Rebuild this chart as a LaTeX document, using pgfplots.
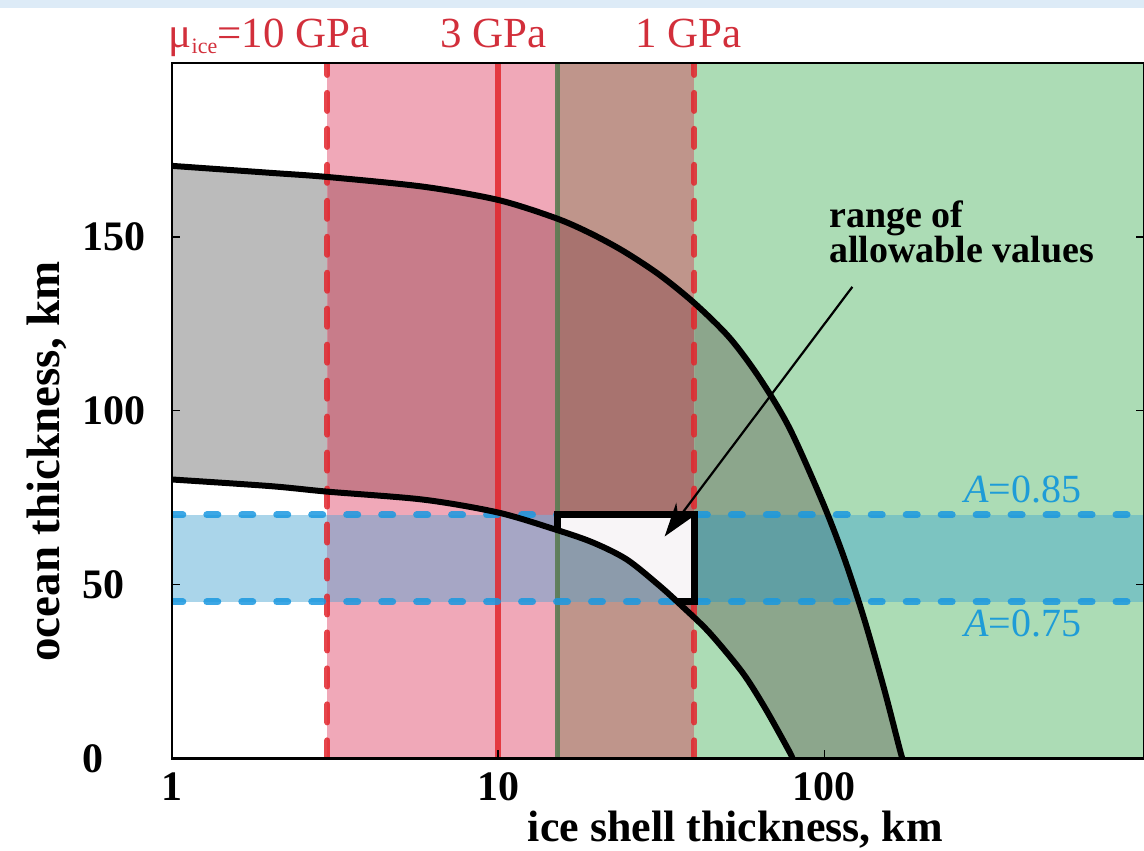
\documentclass[border=0pt]{standalone}
\usepackage{fontspec}
\setmainfont{Liberation Serif}
\usepackage{pgfplots}
\pgfplotsset{compat=1.18}
\usetikzlibrary{arrows.meta}

\definecolor{pinkbg}{HTML}{F0A8B8}
\definecolor{brownbg}{HTML}{BF958B}
\definecolor{greenbg}{HTML}{ACDCB5}
\definecolor{grayw}{HTML}{BBBBBB}
\definecolor{grayp}{HTML}{C87C8A}
\definecolor{grayb}{HTML}{A8736F}
\definecolor{grayg}{HTML}{8CA68C}
\definecolor{bluew}{HTML}{AAD5EA}
\definecolor{bluep}{HTML}{A6A6C5}
\definecolor{blueb}{HTML}{8C9BAB}
\definecolor{blueg}{HTML}{7CC4C1}
\definecolor{bluepg}{HTML}{9699BA}
\definecolor{bluegg}{HTML}{619FA3}
\definecolor{boxwhite}{HTML}{F8F5F7}
\definecolor{redline}{HTML}{E2262D}
\definecolor{greenline}{HTML}{5B7B52}
\definecolor{dashblue}{HTML}{1A98E0}
\definecolor{labblue}{HTML}{1E9CD7}
\definecolor{labred}{HTML}{D22F3B}
\definecolor{topstrip}{HTML}{DDEBF7}

\begin{document}
\begin{tikzpicture}
\begin{axis}[
  scale only axis, width=486.5pt, height=348pt,
  xmode=log, xmin=1, xmax=955, ymin=0, ymax=200,
  xtick={1,10,100}, xticklabels={1,10,100},
  ytick={0,50,100,150}, yticklabels={0,50,100,150},
  xminorticks=false, yminorticks=false,
  tick align=inside, xtick pos=bottom, ytick pos=both,
  major tick length=4pt,
  every tick/.style={black, line width=0.8pt},
  axis line style={line width=1.2pt},
  tick label style={font=\fontsize{21}{25}\selectfont\bfseries},
  xticklabel style={anchor=center, yshift=-14pt, inner sep=0pt},
  yticklabel style={anchor=west, xshift=-45pt, inner sep=0pt},
  axis on top,
  clip mode=individual,
]
% background strips
\addplot[fill=pinkbg, draw=none] coordinates {(3,0) (15.2,0) (15.2,200) (3,200)} -- cycle;
\addplot[fill=brownbg, draw=none] coordinates {(15.2,0) (40,0) (40,200) (15.2,200)} -- cycle;
\addplot[fill=greenbg, draw=none] coordinates {(40,0) (955,0) (955,200) (40,200)} -- cycle;
% gray band pieces
\addplot[fill=grayw, draw=none] coordinates {(1,170.4) (2,168.4) (3,167.2) (3,76.7) (2,78.3) (1,80.2)} -- cycle;
\addplot[fill=grayp, draw=none] coordinates {(3,167.2) (5.91,164.4) (10,160.6) (15.2,155.3) (15.2,65.3) (10,70.7) (5.91,74.4) (3,76.7)} -- cycle;
\addplot[fill=grayb, draw=none] coordinates {(15.2,155.3) (19.1,151.1) (24.2,145.9) (31.2,139.1) (40,130.9) (40,40.5) (36.7,43.7) (31.2,49.7) (24.8,57.2) (19.5,62.1) (15.2,65.3)} -- cycle;
\addplot[fill=grayg, draw=none] coordinates {(40,130.9) (51.2,121.0) (63.2,109.5) (78.1,95.1) (98.6,73.9) (115.2,57.5) (132.7,39.9) (152.7,19.8) (169.7,3.2) (173.4,0) (79.8,0) (78.1,2.0) (65.9,14.4) (56.1,24.7) (44.4,36.2) (40,40.5)} -- cycle;
% blue band pieces
\addplot[fill=bluew, draw=none] coordinates {(1,45) (3,45) (3,70) (1,70)} -- cycle;
\addplot[fill=bluep, draw=none] coordinates {(3,45) (15.2,45) (15.2,70) (3,70)} -- cycle;
\addplot[fill=blueb, draw=none] coordinates {(15.2,45) (40,45) (40,70) (15.2,70)} -- cycle;
\addplot[fill=blueg, draw=none] coordinates {(40,45) (955,45) (955,70) (40,70)} -- cycle;
\addplot[fill=bluepg, draw=none] coordinates {(10.6,70) (15.2,70) (15.2,65.3) (12.5,68.1)} -- cycle;
\addplot[fill=bluegg, draw=none] coordinates {(40,45) (40,70) (102,70) (115.2,57.5) (127.3,45)} -- cycle;
% allowable range box
\addplot[fill=boxwhite, draw=none] coordinates {(15.2,70) (40,70) (40,45) (35.4,45) (31.2,49.7) (24.8,57.2) (19.5,62.1) (15.2,65.3)} -- cycle;
% vertical lines
\addplot[draw=redline, draw opacity=0.85, line width=3pt, dash pattern=on 9pt off 9pt, line cap=round] coordinates {(3,0) (3,200)};
\addplot[draw=redline, draw opacity=0.85, line width=3pt, dash pattern=on 9pt off 9pt, line cap=round] coordinates {(40,0) (40,200)};
\addplot[draw=redline, draw opacity=0.85, line width=3pt] coordinates {(10,0) (10,200)};
\addplot[draw=greenline, draw opacity=0.9, line width=2.5pt] coordinates {(15.2,0) (15.2,200)};
% blue dashed lines
\addplot[draw=dashblue, draw opacity=0.85, line width=3.5pt, dash pattern=on 5.5pt off 12pt, line cap=round] coordinates {(1,70) (955,70)};
\addplot[draw=dashblue, draw opacity=0.85, line width=3.5pt, dash pattern=on 5.5pt off 12pt, line cap=round] coordinates {(1,45) (955,45)};
% curves
\addplot[black, line width=3pt, smooth] coordinates {(1,170.4) (2,168.4) (3,167.2) (5.91,164.4) (10,160.6) (15.0,155.4) (19.1,151.1) (24.2,145.9) (31.2,139.1) (40,130.9) (51.2,121.0) (63.2,109.5) (78.1,95.1) (98.6,73.9) (115.2,57.5) (132.7,39.9) (152.7,19.8) (169.7,3.2) (173.4,0)};
\addplot[black, line width=3pt, smooth] coordinates {(1,80.2) (2,78.3) (3,76.7) (5.91,74.4) (10,70.7) (15.0,65.8) (19.5,62.1) (24.8,57.2) (31.2,49.7) (36.7,43.7) (44.4,36.2) (56.1,24.7) (65.9,14.4) (78.1,2.0) (79.8,0)};
\addplot[black, line width=3.5pt, line join=miter] coordinates {(15.2,65.3) (15.2,70) (40,70) (40,45) (35.4,45)};
% arrow and texts
\draw[-{Stealth[length=17pt,width=11pt]}, line width=1.1pt] (axis cs:121.9,135.6) -- (axis cs:32.4,63.8);
\node[anchor=base west, font=\fontsize{19}{22}\selectfont\bfseries] at (axis cs:98.6,152.6) {range of};
\node[anchor=base west, font=\fontsize{19}{22}\selectfont\bfseries] at (axis cs:98.6,142.5) {allowable values};
\node[anchor=base west, text=labblue, font=\fontsize{20}{24}\selectfont] at (axis cs:255.5,73.6) {\textit{A}=0.85};
\node[anchor=base west, text=labblue, font=\fontsize{20}{24}\selectfont] at (axis cs:255.5,35.1) {\textit{A}=0.75};
\node[anchor=base east, inner sep=0pt, text=labred, font=\fontsize{21.5}{25}\selectfont] at (axis cs:4.04,204.3) {μ\raisebox{-0.3ex}{\fontsize{11}{12}\selectfont ice}=10 GPa};
\node[anchor=base, text=labred, font=\fontsize{21.5}{25}\selectfont] at (axis cs:9.69,204.3) {3 GPa};
\node[anchor=base, text=labred, font=\fontsize{21.5}{25}\selectfont] at (axis cs:38.3,204.3) {1 GPa};
\node[anchor=base, inner sep=0pt, font=\fontsize{22}{26}\selectfont\bfseries] at ([yshift=-41.5pt]axis cs:53.4,0) {ice shell thickness, km};
\node[rotate=90, font=\fontsize{23.5}{28}\selectfont\bfseries] at ([xshift=-62.5pt]rel axis cs:0,0.427) {ocean thickness, km};
\end{axis}
\pgfresetboundingbox
\path[use as bounding box] ([xshift=-86pt,yshift=-46pt]current axis.south west) rectangle ([yshift=31.5pt]current axis.north east);
\fill[topstrip] ([xshift=-86pt,yshift=27.5pt]current axis.north west) rectangle ([yshift=31.5pt]current axis.north east);
\end{tikzpicture}
\end{document}
